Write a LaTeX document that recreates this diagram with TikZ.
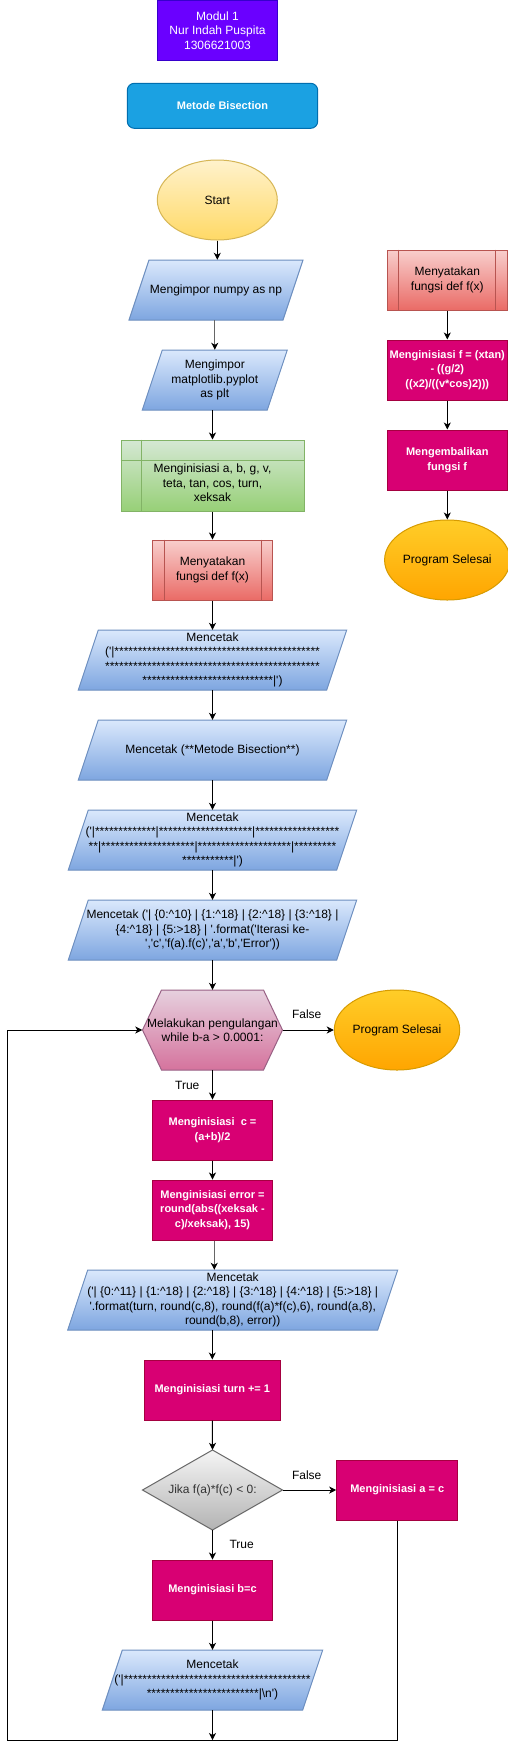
\documentclass[tikz,border=0pt]{standalone}
\usepackage{fontspec}
\newfontfamily\dfont{Liberation Sans}
\usetikzlibrary{arrows.meta,shapes.geometric}
\definecolor{pinkF}{HTML}{D80073}\definecolor{pinkS}{HTML}{A50040}
\definecolor{bluT}{HTML}{DAE8FC}\definecolor{bluB}{HTML}{7EA6E0}\definecolor{bluS}{HTML}{6C8EBF}
\definecolor{grnT}{HTML}{D5E8D4}\definecolor{grnB}{HTML}{97D077}\definecolor{grnS}{HTML}{82B366}
\definecolor{redT}{HTML}{F8CECC}\definecolor{redB}{HTML}{EA6B66}\definecolor{redS}{HTML}{B85450}
\definecolor{ylwT}{HTML}{FFF2CC}\definecolor{ylwB}{HTML}{FFD966}\definecolor{ylwS}{HTML}{D6B656}
\definecolor{orgT}{HTML}{FFCD28}\definecolor{orgB}{HTML}{FFA500}\definecolor{orgS}{HTML}{D79B00}
\definecolor{hexT}{HTML}{E6D0DE}\definecolor{hexB}{HTML}{D5739D}\definecolor{hexS}{HTML}{996185}
\definecolor{dmdT}{HTML}{F5F5F5}\definecolor{dmdB}{HTML}{B3B3B3}\definecolor{dmdS}{HTML}{666666}
\definecolor{purF}{HTML}{6A00FF}\definecolor{purS}{HTML}{3700CC}
\definecolor{cyaF}{HTML}{1BA1E2}\definecolor{cyaS}{HTML}{006EAF}
\definecolor{txtG}{HTML}{333333}
\newcount\stc
\newcommand\stars[1]{\stc=#1\relax\loop\ifnum\stc>0 *\advance\stc by -1\relax\repeat}
\newcommand\ca{\textasciicircum}
\tikzset{
  base/.style={font=\dfont\fontsize{12}{14.4}\selectfont, align=center, inner sep=0pt, text=black},
  wtext/.style={font=\dfont\bfseries\fontsize{11}{14.4}\selectfont, align=center, inner sep=0pt, text=white},
  pinkbox/.style={wtext, rectangle, fill=pinkF, draw=pinkS, line width=1pt, minimum width=120pt, minimum height=60pt},
  pfill/.style={top color=bluT, bottom color=bluB, draw=bluS, line width=1pt},
  redbox/.style={base, rectangle, top color=redT, bottom color=redB, draw=redS, line width=1pt, minimum width=120pt, minimum height=60pt},
  arr/.style={draw=black, line width=1pt, -{Stealth[length=7pt,width=7pt,inset=2pt]}},
  arrg/.style={draw=dmdS, line width=1pt, -{Stealth[length=7pt,width=7pt,inset=2pt,color=black]}},
}
\newcommand\pgram[6]{%
  \path[pfill] ({#2-#4/2+20},{#3-#5/2}) -- ({#2+#4/2},{#3-#5/2}) -- ({#2+#4/2-20},{#3+#5/2}) -- ({#2-#4/2},{#3+#5/2}) -- cycle;
  \node[base, minimum width=#4pt, minimum height=#5pt] (#1) at (#2,#3) {#6};}
\newcommand\proclines[1]{%
  \draw[redS, line width=1pt] ([xshift=12pt]#1.north west) -- ([xshift=12pt]#1.south west);
  \draw[redS, line width=1pt] ([xshift=-12pt]#1.north east) -- ([xshift=-12pt]#1.south east);}
\begin{document}
\begin{tikzpicture}[x=1pt,y=-1pt]
\useasboundingbox (0,0) rectangle (508,1749);
\fill[white] (0,0) rectangle (508,1749);

% header
\node[base, text=white, fill=purF, draw=purS, line width=1pt, minimum width=120.4pt, minimum height=60pt] (modul) at (217.5,30.5) {Modul 1\\Nur Indah Puspita\\1306621003};
\node[wtext, rounded corners=7pt, fill=cyaF, draw=cyaS, line width=1pt, minimum width=190.4pt, minimum height=45pt] (metode) at (222.5,105.8) {Metode Bisection};

% main column
\node[base, ellipse, top color=ylwT, bottom color=ylwB, draw=ylwS, line width=1pt, minimum width=120pt, minimum height=80pt] (start) at (217.3,200) {Start};
\pgram{p1}{216}{290}{174}{60}{Mengimpor numpy as np}
\pgram{p2}{214.8}{380}{145}{60}{Mengimpor\\matplotlib.pyplot\\as plt}

\node[rectangle, top color=grnT, bottom color=grnB, draw=grnS, line width=1pt, minimum width=183pt, minimum height=71pt] (init) at (212.5,475.5) {};
\draw[grnS, line width=1pt] ([xshift=20.7pt]init.north west) -- ([xshift=20.7pt]init.south west);
\draw[grnS, line width=1pt] ([yshift=-20.7pt]init.north west) -- ([yshift=-20.7pt]init.north east);
\node[base] (initT) at (212.5,483) {Menginisiasi a, b, g, v,\\teta, tan, cos, turn,\\xeksak};

\node[redbox] (defL) at (212.5,570) {Menyatakan\\fungsi def f(x)};
\proclines{defL}

\pgram{p3}{212.5}{660}{268.4}{60}{Mencetak\\('|\stars{44}\\\stars{46}\\\stars{28}|')}
\pgram{p4}{212.5}{750}{268.4}{60}{Mencetak (**Metode Bisection**)}
\pgram{p5}{212.5}{840}{288.4}{60}{Mencetak\\('|\stars{13}|\stars{20}|\stars{18}\\**|\stars{20}|\stars{20}|\stars{9}\\\stars{11}|')}
\pgram{p6}{212.5}{930}{288.4}{60}{Mencetak ('| \{0:\ca10\} | \{1:\ca18\} | \{2:\ca18\} | \{3:\ca18\} |\\\{4:\ca18\} | \{5:>18\} | '.format('Iterasi ke-\\','c','f(a).f(c)','a','b','Error'))}

% loop hexagon
\path[top color=hexT, bottom color=hexB, draw=hexS, line width=1pt] (142.5,1030) -- (161.5,990) -- (263.5,990) -- (282.5,1030) -- (263.5,1070) -- (161.5,1070) -- cycle;
\node[base, minimum width=140pt, minimum height=80pt] (hex) at (212.5,1030) {Melakukan pengulangan\\while b-a > 0.0001:};
\node[base, ellipse, top color=orgT, bottom color=orgB, draw=orgS, line width=1pt, minimum width=120pt, minimum height=80pt] (endA) at (397,1030) {Program Selesai};
\node[base] (lf1) at (306.7,1014.3) {False};
\node[base] (lt1) at (187.3,1085) {True};

\node[pinkbox] (cbox) at (212.5,1130) {Menginisiasi\ \ c =\\(a+b)/2};
\node[pinkbox] (ebox) at (212.5,1210) {Menginisiasi error =\\round(abs((xeksak -\\c)/xeksak), 15)};
\pgram{p8}{232.7}{1300}{330}{60}{Mencetak\\('| \{0:\ca11\} | \{1:\ca18\} | \{2:\ca18\} | \{3:\ca18\} | \{4:\ca18\} | \{5:>18\} |\\'.format(turn, round(c,8), round(f(a)*f(c),6), round(a,8),\\round(b,8), error))}
\node[pinkbox, minimum width=136pt] (tbox) at (212.3,1390) {Menginisiasi turn += 1};

\path[top color=dmdT, bottom color=dmdB, draw=dmdS, line width=1pt] (212.5,1450) -- (282.5,1490) -- (212.5,1530) -- (142.5,1490) -- cycle;
\node[base, text=txtG, minimum width=140pt, minimum height=80pt] (dia) at (212.5,1490) {Jika f(a)*f(c) < 0:};
\node[pinkbox, minimum width=121pt] (abox) at (397.2,1490) {Menginisiasi a = c};
\node[base] (lf2) at (306.7,1475) {False};
\node[base] (lt2) at (241.7,1544.3) {True};
\node[pinkbox] (bbox) at (212.5,1590) {Menginisiasi b=c};
\pgram{p9}{212.5}{1680}{220.4}{60}{Mencetak\\('|\stars{40}\\\stars{24}|\textbackslash n')}

% right column
\node[redbox] (defR) at (447.3,280) {Menyatakan\\fungsi def f(x)};
\proclines{defR}
\node[pinkbox] (fbox) at (447.3,370) {Menginisiasi f = (xtan)\\- ((g/2)\\((x2)/((v*cos)2)))};
\node[pinkbox] (rbox) at (447.3,460) {Mengembalikan\\fungsi f};
\node[base, ellipse, top color=orgT, bottom color=orgB, draw=orgS, line width=1pt, minimum width=120pt, minimum height=80pt] (endB) at (447.3,560) {Program Selesai};

% connectors
\draw[arr] (start.south) -- (start.south |- p1.north);
\draw[arrg] (p1.south -| p2.north) -- (p2.north);
\draw[arr] (init.north |- p2.south) -- (init.north);
\draw[arr] (init.south) -- (defL.north);
\draw[arr] (defL.south) -- (p3.north);
\draw[arr] (p3.south) -- (p4.north);
\draw[arr] (p4.south) -- (p5.north);
\draw[arr] (p5.south) -- (p6.north);
\draw[arr] (p6.south) -- (hex.north);
\draw[arr] (hex.east) -- (endA.west);
\draw[arr] (hex.south) -- (cbox.north);
\draw[arr] (cbox.south) -- (ebox.north);
\draw[arrg] ([xshift=1.8pt]ebox.south) -- ([xshift=1.8pt]ebox.south |- p8.north);
\draw[arr] (tbox.north |- p8.south) -- (tbox.north);
\draw[arr] (tbox.south) -- (dia.north);
\draw[arr] (dia.east) -- (abox.west);
\draw[arr] (dia.south) -- (bbox.north);
\draw[arr] (bbox.south) -- (p9.north);
\coordinate (lb) at (7.3,1740);
\coordinate (rb) at (397.2,1740);
\draw[arr] (p9.south) -- (p9.south |- lb);
\draw[arr] (abox.south) -- (rb) -- (lb) |- (hex.west);
\draw[arr] (defR.south) -- (fbox.north);
\draw[arr] (fbox.south) -- (rbox.north);
\draw[arr] (rbox.south) -- (endB.north);
\end{tikzpicture}
\end{document}
